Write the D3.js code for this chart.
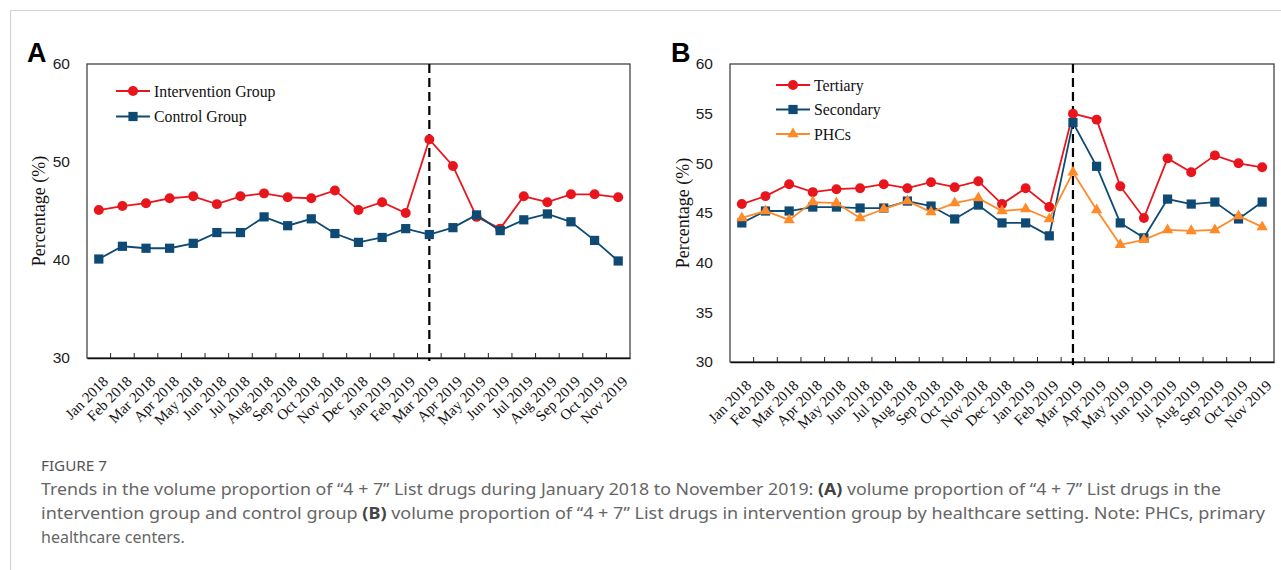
<!DOCTYPE html>
<html>
<head>
<meta charset="utf-8">
<script src="https://cdn.jsdelivr.net/npm/d3@7"></script>
<style>
  body { margin: 0; background: #fff; }
  svg { display: block; }
</style>
</head>
<body>
<script>
// data
const months = ["Jan 2018","Feb 2018","Mar 2018","Apr 2018","May 2018","Jun 2018","Jul 2018","Aug 2018",
                "Sep 2018","Oct 2018","Nov 2018","Dec 2018","Jan 2019","Feb 2019","Mar 2019","Apr 2019",
                "May 2019","Jun 2019","Jul 2019","Aug 2019","Sep 2019","Oct 2019","Nov 2019"];
const intervention = [45.1,45.5,45.8,46.3,46.5,45.7,46.5,46.8,46.4,46.3,47.1,45.1,45.9,44.8,52.3,49.6,44.4,43.2,46.5,45.9,46.7,46.7,46.4];
const control      = [40.1,41.4,41.2,41.2,41.7,42.8,42.8,44.4,43.5,44.2,42.7,41.8,42.3,43.2,42.6,43.3,44.6,43.0,44.1,44.7,43.9,42.0,39.9];
const tertiary     = [45.9,46.7,47.9,47.1,47.4,47.5,47.9,47.5,48.1,47.6,48.2,45.9,47.5,45.6,55.0,54.4,47.7,44.5,50.5,49.1,50.8,50.0,49.6];
const secondary    = [44.0,45.2,45.2,45.6,45.6,45.5,45.5,46.2,45.7,44.4,45.8,44.0,44.0,42.7,54.1,49.7,44.0,42.5,46.4,45.9,46.1,44.4,46.1];
const phcs         = [44.5,45.2,44.3,46.1,46.0,44.5,45.4,46.2,45.1,46.0,46.5,45.2,45.4,44.4,49.1,45.3,41.8,42.3,43.3,43.2,43.3,44.7,43.6];
const ticksA = [30,40,50,60];
const ticksB = [30,35,40,45,50,55,60];
const policyMonth = "Mar 2019";

const red = "#e8161c", blue = "#0e4a73", orange = "#ff8a2a";
const serif = "'Liberation Serif','Times New Roman',serif";
const sans = "'Liberation Sans',Arial,sans-serif";

const svg = d3.select("body").append("svg")
    .attr("width", 1281)
    .attr("height", 570);

// card border (top + left)
svg.append("path")
    .attr("d", "M10.5,570V10.5H1281")
    .attr("fill", "none")
    .attr("stroke", "#d4d4d4")
    .attr("stroke-width", 1.2);

function panel(opt) {
    const x = d3.scaleBand().domain(months).range([opt.left, opt.right]);
    const y = d3.scaleLinear().domain([30, 60]).range([opt.bottom, opt.top]);
    const g = svg.append("g");

    //frame
    g.append("rect")
        .attr("x", opt.left).attr("y", opt.top)
        .attr("width", opt.right - opt.left).attr("height", opt.bottom - opt.top)
        .attr("fill", "none").attr("stroke", "#444").attr("stroke-width", 1.3);

    //y axis
    const ya = g.append("g")
        .attr("transform", "translate(" + opt.left + ",0)")
        .call(d3.axisLeft(y).tickValues(opt.ticks).tickSize(0).tickPadding(17));
    ya.select(".domain").remove();
    ya.selectAll("text").attr("font-family", sans).attr("font-size", 15.5).attr("fill", "#222");

    //x axis: labels at band centres, ticks at band edges
    const xa = g.append("g")
        .attr("transform", "translate(0," + opt.bottom + ")")
        .call(d3.axisBottom(x).tickSize(0).tickPadding(0));
    xa.select(".domain").attr("stroke", "#111").attr("stroke-width", 1.5);
    xa.selectAll("text")
        .attr("font-family", serif).attr("font-size", 15).attr("fill", "#111")
        .attr("text-anchor", "end")
        .attr("transform", "translate(4,18) rotate(-45)")
        .attr("y", 0).attr("dy", "0.6em");
    g.selectAll(".xtick").data(months.slice(1))
        .join("line")
        .attr("x1", d => x(d)).attr("x2", d => x(d))
        .attr("y1", opt.bottom).attr("y2", opt.bottom - 5)
        .attr("stroke", "#222").attr("stroke-width", 1);

    //y title
    g.append("text")
        .attr("transform", "translate(" + opt.titleX + "," + ((opt.top + opt.bottom) / 2) + ") rotate(-90)")
        .attr("text-anchor", "middle")
        .attr("font-family", serif).attr("font-size", 18).attr("fill", "#111")
        .text("Percentage (%)");

    //panel letter
    g.append("text")
        .attr("x", opt.letterX).attr("y", 62)
        .attr("font-family", sans).attr("font-weight", "bold").attr("font-size", 27)
        .text(opt.letter);

    //dashed line at policy start
    const cx = x(policyMonth) + x.bandwidth() / 2;
    g.append("line")
        .attr("x1", cx).attr("x2", cx)
        .attr("y1", opt.top).attr("y2", opt.bottom + 3)
        .attr("stroke", "#000").attr("stroke-width", 2.2)
        .attr("stroke-dasharray", "9,5");

    const line = d3.line()
        .x((d, i) => x(months[i]) + x.bandwidth() / 2)
        .y(d => y(d));

    opt.series.forEach(s => {
        g.append("path")
            .datum(s.values)
            .attr("d", line)
            .attr("fill", "none").attr("stroke", s.color).attr("stroke-width", 1.8);
        g.selectAll(null).data(s.values)
            .join("path")
            .attr("transform", (d, i) => "translate(" + (x(months[i]) + x.bandwidth() / 2) + "," + y(d) + ")")
            .attr("d", d3.symbol().type(s.symbol).size(s.size))
            .attr("fill", s.color);
    });

    //legend
    opt.series.forEach((s, i) => {
        const ly = opt.legendY + i * opt.legendGap;
        g.append("line")
            .attr("x1", opt.legendX).attr("x2", opt.legendX + 34)
            .attr("y1", ly).attr("y2", ly)
            .attr("stroke", s.color).attr("stroke-width", 1.8);
        g.append("path")
            .attr("transform", "translate(" + (opt.legendX + 17) + "," + ly + ")")
            .attr("d", d3.symbol().type(s.symbol).size(s.size))
            .attr("fill", s.color);
        g.append("text")
            .attr("x", opt.legendX + 38).attr("y", ly)
            .attr("dy", "0.35em")
            .attr("font-family", serif).attr("font-size", 15.8).attr("fill", "#111")
            .text(s.name);
    });
}

panel({
    left: 87, right: 630, top: 64, bottom: 358,
    ticks: ticksA, titleX: 45, letter: "A", letterX: 27,
    legendX: 116, legendY: 91, legendGap: 25.5,
    series: [
        {name: "Intervention Group", values: intervention, color: red, symbol: d3.symbolCircle, size: 78},
        {name: "Control Group", values: control, color: blue, symbol: d3.symbolSquare, size: 85}
    ]
});

panel({
    left: 730, right: 1274, top: 64, bottom: 362,
    ticks: ticksB, titleX: 689, letter: "B", letterX: 671,
    legendX: 776, legendY: 85, legendGap: 24.5,
    series: [
        {name: "Tertiary", values: tertiary, color: red, symbol: d3.symbolCircle, size: 78},
        {name: "Secondary", values: secondary, color: blue, symbol: d3.symbolSquare, size: 85},
        {name: "PHCs", values: phcs, color: orange, symbol: d3.symbolTriangle, size: 55}
    ]
});

// caption
const capFont = "'Noto Sans','Open Sans',sans-serif";
svg.append("text")
    .attr("x", 41).attr("y", 471)
    .attr("font-family", capFont).attr("font-size", 15).attr("fill", "#555")
    .attr("textLength", 66).attr("lengthAdjust", "spacingAndGlyphs")
    .text("FIGURE 7");

const capLines = [
    [["Trends in the volume proportion of \u201c4 + 7\u201d List drugs during January 2018 to November 2019: ", false], ["(A)", true], [" volume proportion of \u201c4 + 7\u201d List drugs in the", false]],
    [["intervention group and control group ", false], ["(B)", true], [" volume proportion of \u201c4 + 7\u201d List drugs in intervention group by healthcare setting. Note: PHCs, primary", false]],
    [["healthcare centers.", false]]
];
const capWidths = [1180, 1224, 120];
capLines.forEach((parts, i) => {
    const t = svg.append("text")
        .attr("x", 41).attr("y", 495 + i * 24)
        .attr("font-family", capFont).attr("font-size", 16).attr("fill", "#666");
    if (i < 2) t.attr("textLength", capWidths[i]).attr("lengthAdjust", "spacingAndGlyphs");
    parts.forEach(p => {
        t.append("tspan")
            .attr("font-weight", p[1] ? "bold" : null)
            .attr("fill", p[1] ? "#444" : null)
            .text(p[0]);
    });
});
</script>
</body>
</html>
